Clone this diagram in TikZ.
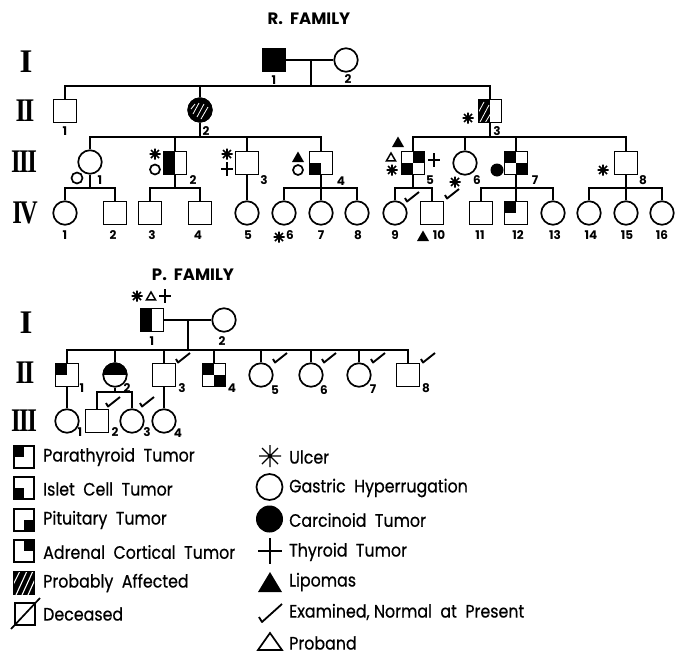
\documentclass[tikz,border=0pt]{standalone}
\usepackage{fontspec}
\usetikzlibrary{calc}
\setmainfont{Poppins}
\newfontfamily\romfont{Liberation Serif}
\newfontfamily\legfont{Poppins}[FakeBold=0.6]
\newcommand\pqUL[1]{\fill (#1.north west) rectangle (#1.center);}
\newcommand\pqUR[1]{\fill (#1.north east) rectangle (#1.center);}
\newcommand\pqLL[1]{\fill (#1.south west) rectangle (#1.center);}
\newcommand\pqLR[1]{\fill (#1.south east) rectangle (#1.center);}
\newcommand\pqL[1]{\fill (#1.north west) rectangle (#1.south);}
\newcommand\legtxt[1]{\scalebox{0.88}[1]{#1}}
\begin{document}
\begin{tikzpicture}[x=1pt,y=-1pt,
  ln/.style={line width=1.7pt},
  sq/.style={draw,line width=1.7pt,rectangle,minimum width=23pt,minimum height=23pt,inner sep=0pt},
  ci/.style={draw,line width=1.7pt,circle,minimum size=23.5pt,inner sep=0pt},
  lsq/.style={draw,line width=2pt,rectangle,minimum width=20pt,minimum height=22pt,inner sep=0pt},
  lab/.style={font=\bfseries\fontsize{12}{12}\selectfont,inner sep=0pt},
  rom/.style={font=\romfont\bfseries\fontsize{33}{33}\selectfont,inner sep=0pt},
  ttl/.style={font=\bfseries\fontsize{16.5}{16.5}\selectfont,inner sep=0pt},
  legt/.style={font=\legfont\fontsize{18}{18}\selectfont,anchor=west,inner sep=0pt},
  ast/.pic={\draw[line width=1.7pt] (-5.5,0)--(5.5,0) (0,-5.5)--(0,5.5) (-4,-4)--(4,4) (-4,4)--(4,-4); \fill (0,0) circle (2.5);},
  pls/.pic={\draw[line width=1.9pt] (-6,0)--(6,0) (0,-7)--(0,7);},
  trif/.pic={\fill (-6,5)--(6,5)--(0,-5.5)--cycle;},
  trio/.pic={\draw[line width=1.5pt,line join=miter] (-4.5,3.8)--(4.5,3.8)--(0,-4)--cycle;},
  chk/.pic={\draw[line width=1.9pt,line join=round] (-7,1)--(-5,4.5)--(7,-5);}
]
\useasboundingbox (0,0) rectangle (686,656);

%================ R FAMILY =================
\node[ttl] (tR) at (309,19) {R.\ \ FAMILY};
\node[rom] (rR1) at (26,62) {I};
\node[rom] (rR2) at (25,111) {\scalebox{0.8}[1]{I\kern-2pt I}};
\node[rom] (rR3) at (24,162) {\scalebox{0.75}[1]{I\kern-2pt I\kern-2pt I}};
\node[rom] (rR4) at (25,213) {\scalebox{0.75}[1]{I\kern-3pt V}};

% generation I
\node[sq,fill=black] (R11) at (274,60) {};
\node[ci] (R12) at (346,60) {};
\draw[ln] (R11) -- (R12);
\coordinate (Rm1) at (311,60);
\coordinate (Rs1) at (311,86);
\draw[ln] (Rm1) -- (Rs1);
\node[lab] (lR11) at (274,80) {1};
\node[lab] (lR12) at (348,79) {2};

% generation II
\node[sq] (R21) at (65,111) {};
\node[ci] (R22) at (200,110) {};
\node[sq] (R23) at (490,111) {};
\draw[ln] (R21.north) |- (R23.north |- Rs1) -- (R23.north);
\draw[ln] (R22.north) -- (R22.north |- Rs1);
% hatched circle II-2
\fill (R22.center) circle (12.6);
\begin{scope}[shift={(R22.center)}]
  \clip (0,0) circle (11);
  \draw[white,line width=0.8pt] (-7,4)--(-1,-7) (-3,7)--(4,-6) (1,9)--(8,-3) (-9,-1)--(-5,-6);
\end{scope}
% II-3 half hatched
\pqL{R23}
\begin{scope}[shift={(R23.center)}]
  \clip (-12,-12) rectangle (0,12);
  \draw[white,line width=0.8pt] (-13,4)--(-6,-9) (-10,11)--(-1,-6) (-5,12)--(1,2);
\end{scope}
\node[sq] (R23b) at (490,111) {};
\pic at (468,118) {ast};
\node[lab] (lR21) at (65,131) {1};
\node[lab] (lR22) at (206,131) {2};
\node[lab] (lR23) at (497,131) {3};

% generation III (children of II-2)
\coordinate (Rs2) at (200,137);
\draw[ln] (R22.south) -- (Rs2);
\node[ci] (R31) at (90,162) {};
\node[sq] (R32) at (175,163) {};
\node[sq] (R33) at (247,163) {};
\node[sq] (R34) at (321,163) {};
\draw[ln] (R31.north) |- (R34.north |- Rs2) -- (R34.north);
\draw[ln] (R32.north) -- (R32.north |- Rs2);
\draw[ln] (R33.north) -- (R33.north |- Rs2);
\pqL{R32}
\pqLL{R34}
\draw[ln] (77,178) circle (5.5);
\pic at (155,154) {ast};
\draw[ln] (155,169.5) circle (5);
\pic at (227,154) {ast};
\pic at (227,169) {pls};
\pic at (298,157) {trif};
\draw[ln] (298,170) circle (5);
\node[lab] (lR31) at (100,180) {1};
\node[lab] (lR32) at (193,180) {2};
\node[lab] (lR33) at (264,180) {3};
\node[lab] (lR34) at (341,181) {4};

% generation III (children of II-3)
\coordinate (Rs3) at (490,137);
\draw[ln] (R23.south) -- (Rs3);
\node[sq] (R35) at (413,163) {};
\node[ci] (R36) at (465,163) {};
\node[sq] (R37) at (516,163) {};
\node[sq] (R38) at (626,163) {};
\draw[ln] (R35.north) |- (R38.north |- Rs3) -- (R38.north);
\draw[ln] (R36.north) -- (R36.north |- Rs3);
\draw[ln] (R37.north) -- (R37.north |- Rs3);
\pqUR{R35}\pqLL{R35}
\pqUL{R37}\pqLR{R37}
\pic at (398,142) {trif};
\pic at (391,157) {trio};
\pic at (392,170) {ast};
\pic at (434,160) {pls};
\pic at (455,182) {ast};
\fill (497,170) circle (6.5);
\pic at (603,170) {ast};
\node[lab] (lR35) at (430,180) {5};
\node[lab] (lR36) at (477,180) {6};
\node[lab] (lR37) at (535,180) {7};
\node[lab] (lR38) at (643,180) {8};

% generation IV
\node[ci] (R41) at (65,213) {};
\node[sq] (R42) at (115,213) {};
\node[sq] (R43) at (150,213) {};
\node[sq] (R44) at (200,213) {};
\node[ci] (R45) at (247,213) {};
\node[ci] (R46) at (284,213) {};
\node[ci] (R47) at (321,213) {};
\node[ci] (R48) at (357,213) {};
\node[ci] (R49) at (395,213) {};
\node[sq] (R410) at (432,213) {};
\node[sq] (R411) at (481,213) {};
\node[sq] (R412) at (516,213) {};
\node[ci] (R413) at (553,213) {};
\node[ci] (R414) at (589,213) {};
\node[ci] (R415) at (626,213) {};
\node[ci] (R416) at (662,213) {};
\pqUL{R412}

\coordinate (Rs4) at (90,188);
\draw[ln] (R31.south) -- (Rs4);
\draw[ln] (R41.north) |- (R42.north |- Rs4) -- (R42.north);
\coordinate (Rs5) at (175,188);
\draw[ln] (R32.south) -- (Rs5);
\draw[ln] (R43.north) |- (R44.north |- Rs5) -- (R44.north);
\draw[ln] (R33.south) -- (R45.north);
\coordinate (Rs6) at (321,188);
\draw[ln] (R34.south) -- (Rs6);
\draw[ln] (R46.north) |- (R48.north |- Rs6) -- (R48.north);
\draw[ln] (R47.north) -- (R47.north |- Rs6);
\coordinate (Rs7) at (413,188);
\draw[ln] (R35.south) -- (Rs7);
\draw[ln] (R49.north) |- (R410.north |- Rs7) -- (R410.north);
\coordinate (Rs8) at (516,188);
\draw[ln] (R37.south) -- (Rs8);
\draw[ln] (R411.north) |- (R413.north |- Rs8) -- (R413.north);
\draw[ln] (R412.north) -- (R412.north |- Rs8);
\coordinate (Rs9) at (626,188);
\draw[ln] (R38.south) -- (Rs9);
\draw[ln] (R414.north) |- (R416.north |- Rs9) -- (R416.north);
\draw[ln] (R415.north) -- (R415.north |- Rs9);

\pic at (412,197) {chk};
\pic at (452,194) {chk};
\pic at (279,237) {ast};
\pic at (423,236) {trif};
\node[lab] (lR41) at (65,235) {1};
\node[lab] (lR42) at (113,235) {2};
\node[lab] (lR43) at (152,235) {3};
\node[lab] (lR44) at (198,235) {4};
\node[lab] (lR45) at (248,235) {5};
\node[lab] (lR46) at (290,235) {6};
\node[lab] (lR47) at (321,235) {7};
\node[lab] (lR48) at (358,235) {8};
\node[lab] (lR49) at (395,235) {9};
\node[lab] (lR410) at (439,235) {10};
\node[lab] (lR411) at (480,235) {11};
\node[lab] (lR412) at (518,235) {12};
\node[lab] (lR413) at (555,235) {13};
\node[lab] (lR414) at (591,235) {14};
\node[lab] (lR415) at (627,235) {15};
\node[lab] (lR416) at (662,235) {16};

%================ P FAMILY =================
\node[ttl] (tP) at (193,275) {P.\ \ FAMILY};
\node[rom] (rP1) at (26,323) {I};
\node[rom] (rP2) at (25,373) {\scalebox{0.8}[1]{I\kern-2pt I}};
\node[rom] (rP3) at (24,421) {\scalebox{0.75}[1]{I\kern-2pt I\kern-2pt I}};

\node[sq] (P11) at (152,320) {};
\node[ci] (P12) at (224,320) {};
\pqL{P11}
\draw[ln] (P11) -- (P12);
\coordinate (Pm1) at (188,320);
\coordinate (Ps1) at (188,350);
\draw[ln] (Pm1) -- (Ps1);
\pic at (137,296) {ast};
\pic at (151,296) {trio};
\pic at (165,296) {pls};
\node[lab] (lP11) at (152,341) {1};
\node[lab] (lP12) at (222,341) {2};

\node[sq] (P21) at (67,375) {};
\node[ci] (P22) at (115,375) {};
\node[sq] (P23) at (164,375) {};
\node[sq] (P24) at (214,375) {};
\node[ci] (P25) at (261,375) {};
\node[ci] (P26) at (311,375) {};
\node[ci] (P27) at (359,375) {};
\node[sq] (P28) at (408,375) {};
\draw[ln] (P21.north) |- (P28.north |- Ps1) -- (P28.north);
\foreach \n in {P22,P23,P24,P25,P26,P27}{\draw[ln] (\n.north) -- (\n.north |- Ps1);}
\pqUL{P21}
\pqUL{P24}\pqLR{P24}
\begin{scope}[shift={(P22.center)}]
  \clip (0,0) circle (12.6);
  \fill (-14,-14) rectangle (14,0);
\end{scope}
\pic at (183,358) {chk};
\pic at (280,358) {chk};
\pic at (329,358) {chk};
\pic at (378,358) {chk};
\pic at (428,358) {chk};
\node[lab] (lP21) at (82,388) {1};
\node[lab] (lP22) at (127,388) {2};
\node[lab] (lP23) at (182,388) {3};
\node[lab] (lP24) at (232,388) {4};
\node[lab] (lP25) at (275,390) {5};
\node[lab] (lP26) at (324,390) {6};
\node[lab] (lP27) at (373,389) {7};
\node[lab] (lP28) at (426,388) {8};

\node[ci] (P31) at (67,421) {};
\node[sq] (P32) at (97,421) {};
\node[ci] (P33) at (132,421) {};
\node[ci] (P34) at (164,421) {};
\draw[ln] (P21.south) -- (P31.north);
\draw[ln] (P23.south) -- (P34.north);
\coordinate (Ps2) at (115,392);
\draw[ln] (P22.south) -- (Ps2);
\draw[ln] (P32.north) |- (P33.north |- Ps2) -- (P33.north);
\pic at (113,402) {chk};
\pic at (147,402) {chk};
\node[lab] (lP31) at (80,432) {1};
\node[lab] (lP32) at (115,432) {2};
\node[lab] (lP33) at (147,432) {3};
\node[lab] (lP34) at (178,433) {4};

%================ LEGEND =================
\node[lsq] (L1) at (24,457) {};
\node[lsq] (L2) at (24,488) {};
\node[lsq] (L3) at (24,520) {};
\node[lsq] (L4) at (24,551) {};
\node[lsq] (L5) at (24,583) {};
\node[lsq] (L6) at (25,614) {};
\pqUL{L1}
\pqLL{L2}
\pqLR{L3}
\pqUR{L4}
\fill (L5.north west) rectangle (L5.south east);
\begin{scope}[shift={(L5.center)}]
  \clip (-10,-11) rectangle (10,11);
  \draw[white,line width=1.1pt] (-12,4)--(-4,-12) (-8,12)--(3,-12) (-2,12)--(9,-12) (4,12)--(13,-8);
\end{scope}
\coordinate (d1) at ($(L6.south west)+(-3,3)$);
\coordinate (d2) at ($(L6.north east)+(4,-4)$);
\draw[ln] (d1) -- (d2);
\node[legt] (tL1) at (43,457) {\legtxt{Parathyroid\ \ Tumor}};
\node[legt] (tL2) at (43,489) {\legtxt{Islet\ \ Cell\ \ Tumor}};
\node[legt] (tL3) at (43,520) {\legtxt{Pituitary\ \ Tumor}};
\node[legt] (tL4) at (43,552) {\legtxt{Adrenal\ \ Cortical\ \ Tumor}};
\node[legt] (tL5) at (43,583) {\legtxt{Probably\ \ Affected}};
\node[legt] (tL6) at (43,614) {\legtxt{Deceased}};

\begin{scope}[shift={(270,456)}]
  \draw[line width=1.4pt] (-11,0)--(11,0) (0,-11)--(0,11) (-8,-8)--(8,8) (-8,8)--(8,-8);
\end{scope}
\draw[ln] (269.5,487) circle (13);
\fill (269.5,519) circle (13.5);
\draw[line width=1.8pt] (258,551)--(282,551) (270,538)--(270,564);
\fill (258,592)--(282,592)--(270,572)--cycle;
\begin{scope}[shift={(270,613)}]
  \draw[line width=1.8pt,line join=round] (-11,4)--(-8,9)--(12,-9);
\end{scope}
\draw[line width=1.7pt,line join=miter] (258,650)--(282,650)--(270,633)--cycle;
\node[legt] (tR1) at (289,457) {\legtxt{Ulcer}};
\node[legt] (tR2) at (289,488) {\legtxt{Gastric\ \ Hyperrugation}};
\node[legt] (tR3) at (289,520) {\legtxt{Carcinoid\ \ Tumor}};
\node[legt] (tR4) at (289,552) {\legtxt{Thyroid\ \ Tumor}};
\node[legt] (tR5) at (289,582) {\legtxt{Lipomas}};
\node[legt] (tR6) at (289,612) {\legtxt{Examined,\ Normal\ \ at\ \ Present}};
\node[legt] (tR7) at (289,643) {\legtxt{Proband}};
\end{tikzpicture}
\end{document}
